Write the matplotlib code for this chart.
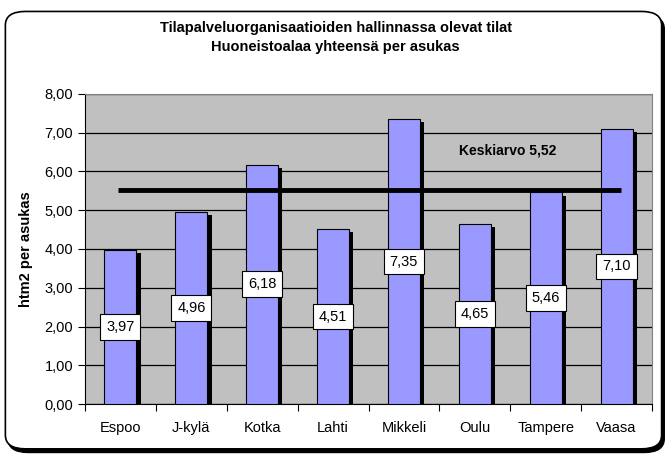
import numpy as np
import matplotlib
matplotlib.use("Agg")
import matplotlib.pyplot as plt
from matplotlib.patches import FancyBboxPatch

plt.rcParams['font.family'] = ['Liberation Sans', 'DejaVu Sans']

cities = ["Espoo", "J-kylä", "Kotka", "Lahti", "Mikkeli", "Oulu", "Tampere", "Vaasa"]
values = [3.97, 4.96, 6.18, 4.51, 7.35, 4.65, 5.46, 7.10]
mean_value = 5.52
y_ticks = [0, 1, 2, 3, 4, 5, 6, 7, 8]

fig = plt.figure(figsize=(6.71, 4.58), dpi=100)

# rounded frame with shadow
shadow = FancyBboxPatch((0.012, 0.012), 0.978, 0.955, boxstyle="round,pad=0,rounding_size=0.03",
                        transform=fig.transFigure, facecolor="black", edgecolor="black", zorder=0)
frame = FancyBboxPatch((0.008, 0.02), 0.978, 0.955, boxstyle="round,pad=0,rounding_size=0.03",
                       transform=fig.transFigure, facecolor="white", edgecolor="black", lw=1.2, zorder=1)
fig.patches.extend([shadow, frame])

ax = fig.add_axes([85 / 671, 1 - 404 / 458, (652 - 85) / 671, (404 - 94) / 458])
ax.set_zorder(2)
ax.set_facecolor("#C0C0C0")

x = np.arange(len(cities))
w = 0.45
sw = 0.06
vals = np.array(values)
# bar shadows
ax.bar(x + w / 2 + sw / 2, vals - 0.08, width=sw, color="black", zorder=2)
ax.bar(x, vals, width=w, color="#9999FF", edgecolor="black", lw=0.8, zorder=3)

for xi, v in zip(x, vals):
    ax.text(xi, v / 2, f"{v:.2f}".replace(".", ","), ha="center", va="center", fontsize=10.5,
            zorder=5, bbox=dict(boxstyle="square,pad=0.4", fc="white", ec="black", lw=0.8))

ax.plot([x[0] - 0.04, x[-1] + 0.06], [mean_value, mean_value], color="black", lw=3.5, zorder=4,
        solid_capstyle="butt")
ax.text(5.46, 6.53, f"Keskiarvo {mean_value:.2f}".replace(".", ","), ha="center", va="center",
        fontsize=10, fontweight="bold", zorder=5)

ax.set_xlim(-0.5, len(cities) - 0.5)
ax.set_ylim(0, 8)
ax.set_yticks(y_ticks)
ax.set_yticklabels([f"{t:.2f}".replace(".", ",") for t in y_ticks], fontsize=10.5)
ax.set_xticks(np.arange(len(cities) + 1) - 0.5, minor=False)
ax.set_xticklabels([])
ax.set_xticks(x, minor=True)
ax.set_xticklabels(cities, minor=True, fontsize=10.5)
ax.tick_params(axis="x", which="minor", length=0, pad=12)
ax.tick_params(axis="x", which="major", length=5, direction="out")
ax.tick_params(axis="y", length=5, direction="out")
ax.yaxis.grid(True, color="black", lw=0.9)
ax.set_axisbelow(True)
for s in ["top", "right"]:
    ax.spines[s].set_color("#808080")
ax.spines["left"].set_color("black")
ax.spines["bottom"].set_color("black")
ax.set_ylabel("htm2 per asukas", fontsize=10.5, fontweight="bold", labelpad=8)

fig.text(0.5, 0.955, "Tilapalveluorganisaatioiden hallinnassa olevat tilat\nHuoneistoalaa yhteensä per asukas",
         ha="center", va="top", fontsize=10.5, fontweight="bold", linespacing=1.45, zorder=3)

fig.savefig("out.png", dpi=100)
